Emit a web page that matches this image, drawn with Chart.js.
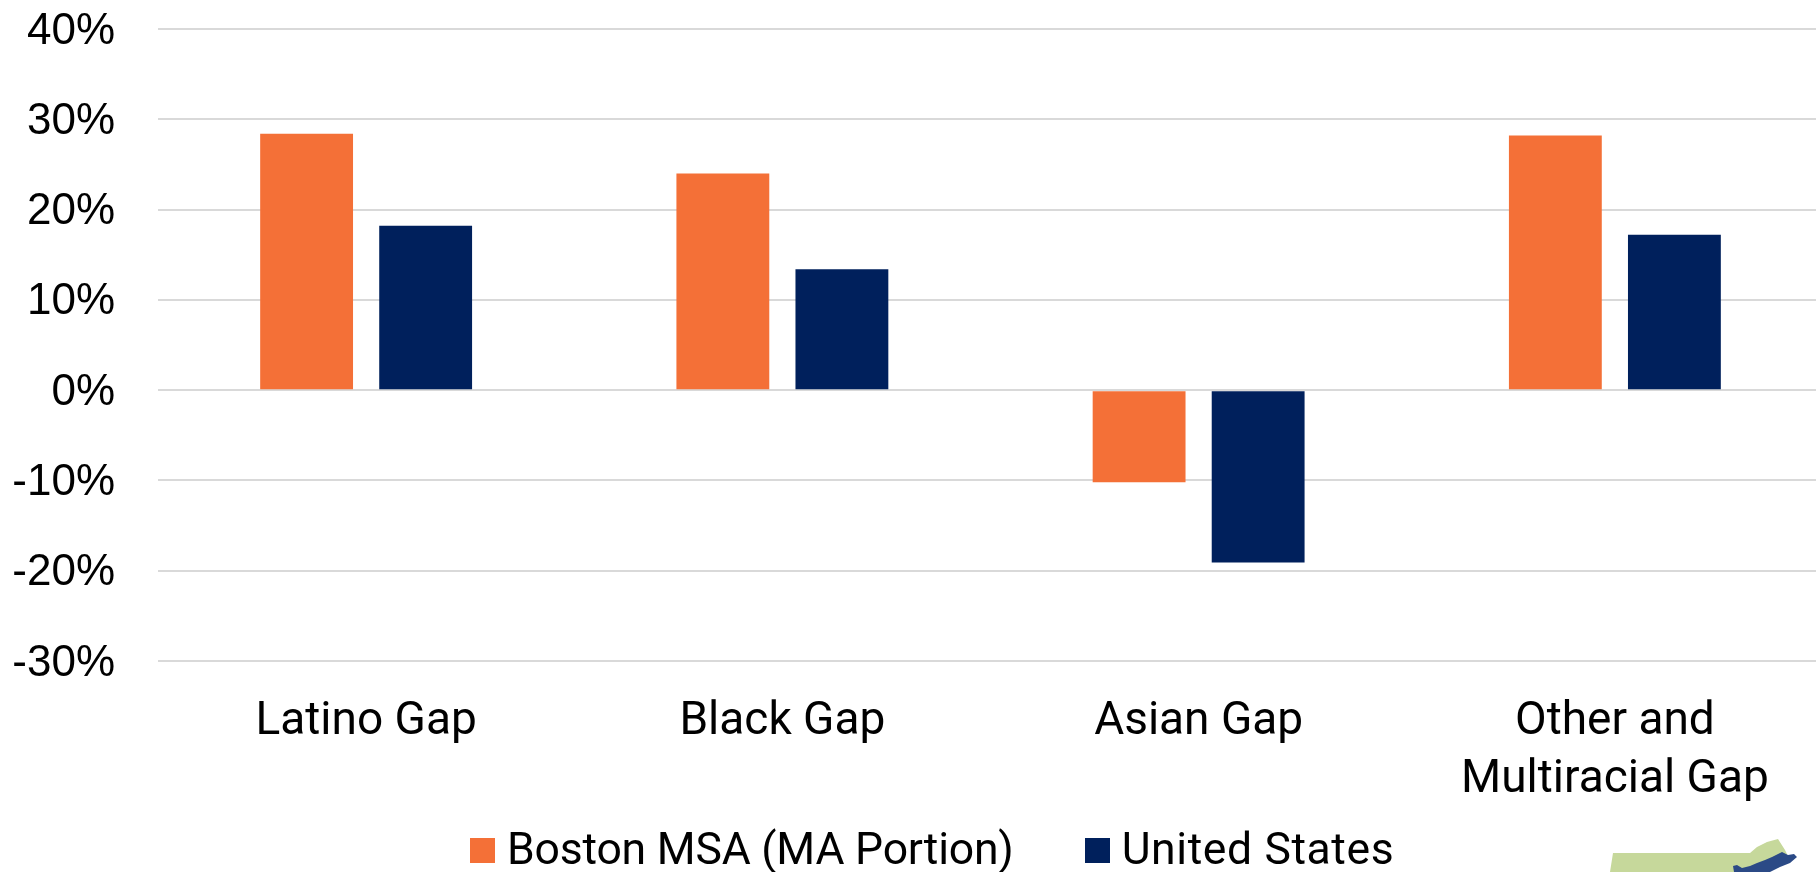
<!DOCTYPE html>
<html>
<head>
<meta charset="utf-8">
<script src="https://cdn.jsdelivr.net/npm/chart.js@4"></script>
<style>
    html, body { margin: 0; padding: 0; width: 1816px; height: 872px; overflow: hidden; background: #fff; }
    #wrap { position: relative; width: 1816px; height: 872px; overflow: hidden; }
    canvas { position: absolute; left: 0; top: 0; }
    #legend { position: absolute; top: 825px; left: 470px; display: flex; align-items: center; height: 48px;
        font: 44.5px Roboto, sans-serif; color: #000; white-space: nowrap; }
    #legend i { display: inline-block; width: 25px; height: 25px; margin: 3px 12px 0 0; }
    #legend span { margin-right: 71px; letter-spacing: -0.2px; }
    #legend span:last-child { letter-spacing: 0.6px; }
    #logo { position: absolute; left: 1600px; top: 830px; }
</style>
</head>
<body>
<div id="wrap">
    <canvas id="gapChart" width="1824" height="872"></canvas>
    <div id="legend"></div>
    <svg id="logo" width="216" height="42" viewBox="0 0 216 42">
        <path d="M13 23 L150 23 L157 17 L167 12 L178 9 L185 20 L190 30 L140 42 L10 42 Z" fill="#c6d89b"/>
        <path d="M133 36 L137 35 L142 38 L150 36 L157 33 L165 30 L172 27 L182 22 L188 25 L194 24 L197 27 L190 33 L180 37 L170 42 L134 42 Z" fill="#2b4a86"/>
    </svg>
</div>
<script>
"use strict";

const categories = ['Latino Gap', 'Black Gap', 'Asian Gap', ['Other and', 'Multiracial Gap']];
const seriesNames = ['Boston MSA (MA Portion)', 'United States'];
const bostonValues = [28.4, 24.0, -10.2, 28.2];
const usValues = [18.2, 13.4, -19.1, 17.2];
const colors = ['#f47037', '#00205c'];

// legend as html, the built-in one can't do the tight box/text gap
const legendEl = document.getElementById('legend');
seriesNames.forEach((name, i) => {
    const box = document.createElement('i');
    box.style.background = colors[i];
    const txt = document.createElement('span');
    txt.textContent = name;
    legendEl.append(box, txt);
});

new Chart(document.getElementById('gapChart'), {
    type: 'bar',
    data: {
        labels: categories,
        datasets: [
            {
                label: seriesNames[0],
                data: bostonValues,
                backgroundColor: colors[0],
                barPercentage: 0.78,
                categoryPercentage: 0.572
            },
            {
                label: seriesNames[1],
                data: usValues,
                backgroundColor: colors[1],
                barPercentage: 0.78,
                categoryPercentage: 0.572
            }
        ]
    },
    options: {
        responsive: false,
        animation: false,
        layout: { padding: { top: 29, right: 1, bottom: 0, left: 0 } },
        plugins: {
            legend: { display: false },
            tooltip: { enabled: false }
        },
        scales: {
            y: {
                min: -30,
                max: 40,
                afterFit: axis => {
                    axis.width = 158;
                    // tick padding otherwise gets added above the plot
                    axis.paddingTop = 0;
                    axis.paddingBottom = 0;
                },
                grid: { color: '#d9d9d9', lineWidth: 2, drawTicks: false },
                border: { display: false },
                ticks: {
                    stepSize: 10,
                    padding: 43,
                    color: '#000',
                    // empty first line + tiny line height nudges labels ~2.5px down
                    font: { family: 'Liberation Sans', size: 44, lineHeight: '5px' },
                    callback: val => ['', val + '%']
                }
            },
            x: {
                afterFit: axis => { axis.height = 211; },
                grid: { display: false, drawTicks: false },
                border: { display: false },
                ticks: {
                    maxRotation: 0,
                    autoSkip: false,
                    padding: 33,
                    color: '#000',
                    font: { family: 'Roboto', size: 46, lineHeight: 1.26 }
                }
            }
        }
    }
});
</script>
</body>
</html>
